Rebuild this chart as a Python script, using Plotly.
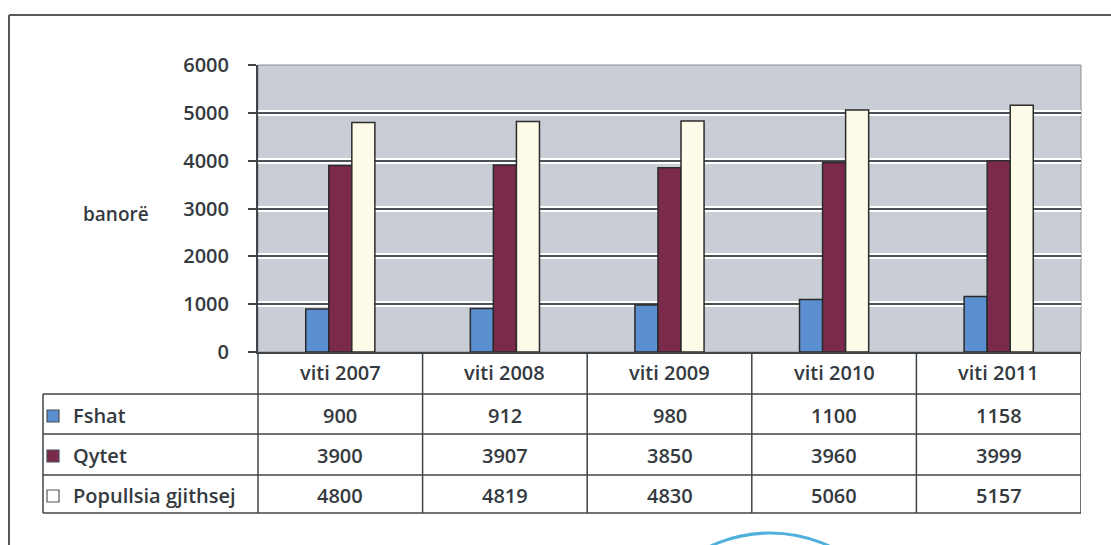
import plotly.graph_objects as go

# Population by year: rural, urban and total residents
years = ["viti 2007", "viti 2008", "viti 2009", "viti 2010", "viti 2011"]
series_names = ["Fshat", "Qytet", "Popullsia gjithsej"]
fshat = [900, 912, 980, 1100, 1158]
qytet = [3900, 3907, 3850, 3960, 3999]
popullsia = [4800, 4819, 4830, 5060, 5157]
y_ticks = [0, 1000, 2000, 3000, 4000, 5000, 6000]
y_label = "banorë"

values = [fshat, qytet, popullsia]
colors = ["#5b8fd0", "#7b2a4c", "#fffbe9"]

W, H = 1111, 545
L, R, T, B = 258, 1081, 65, 352  # plot area in page pixels

FONT = "Open Sans"
TXT = "#343a40"
LINE = "#3f4449"
FS = 20


def px(x):
    return (x - L) / (R - L)


def py(y):
    return (B - y) / (B - T)


fig = go.Figure()
for name, vals, col in zip(series_names, values, colors):
    fig.add_trace(go.Bar(
        x=list(range(len(years))), y=vals, name=name,
        marker=dict(color=col, line=dict(color="#2b2b2b", width=1.5)),
        showlegend=False,
    ))
# empty trace that anchors the overlay axis carrying the dark grid
fig.add_trace(go.Scatter(x=[], y=[], yaxis="y2", showlegend=False))

shapes = []
annotations = []


def hline(y, x0, x1, color=LINE, w=1.5):
    shapes.append(dict(type="line", xref="paper", yref="paper",
                       x0=px(x0), x1=px(x1), y0=py(y), y1=py(y),
                       line=dict(color=color, width=w)))


def vline(x, y0, y1, color=LINE, w=1.5, xref="paper"):
    xv = px(x) if xref == "paper" else x
    shapes.append(dict(type="line", xref=xref, yref="paper",
                       x0=xv, x1=xv, y0=py(y0), y1=py(y1),
                       line=dict(color=color, width=w)))


def label(x, y, text, xref="paper", xanchor="center", size=FS):
    annotations.append(dict(x=x, xref=xref, y=py(y), yref="paper", text=text,
                            showarrow=False, xanchor=xanchor, yanchor="middle",
                            font=dict(size=size, color=TXT, family=FONT, weight=600)))


# outer frame of the figure
hline(15, 9, W, color="#555a5e", w=2)
vline(9, 15, H, color="#555a5e", w=2)

# thin border round the plot area
shapes.append(dict(type="rect", xref="paper", yref="paper", x0=0, x1=1, y0=0, y1=1,
                   line=dict(color="#8a8f95", width=1), layer="below"))

# data table below the chart
row_edges = [394, 434, 475, 513]
for y in row_edges:
    hline(y, 43, R)
vline(43, 394, 513)
vline(L, 352, 513)
for i in range(len(years)):
    vline(i + 0.5, 352, 513, xref="x")

row_centers = [415, 455, 495]
for i, yr in enumerate(years):
    label(i, 372, yr, xref="x")
    for r, vals in enumerate(values):
        label(i, row_centers[r], str(vals[i]), xref="x")

# series keys in the table's first column
for r, (name, col) in enumerate(zip(series_names, colors)):
    yc = row_centers[r] + 1
    shapes.append(dict(type="rect", xref="paper", yref="paper",
                       x0=px(47), x1=px(59), y0=py(yc - 6), y1=py(yc + 6),
                       fillcolor=col if r < 2 else "#ffffff",
                       line=dict(color="#4a4f55" if r < 2 else "#555", width=1.2)))
    label(px(71), row_centers[r], name, xanchor="left")

# axis title
label(px(116), 214, y_label, size=19)

# stamp edge at the bottom of the page
shapes.append(dict(type="circle", xref="paper", yref="paper",
                   x0=px(770 - 141), x1=px(770 + 141), y0=py(533), y1=py(533 + 282),
                   line=dict(color="#4fb0dc", width=3)))

fig.update_layout(
    width=W, height=H,
    margin=dict(l=L, r=W - R, t=T, b=H - B),
    paper_bgcolor="#ffffff",
    plot_bgcolor="#c9cdd5",
    barmode="group", bargap=0.58, bargroupgap=0,
    xaxis=dict(range=[-0.5, len(years) - 0.5], showticklabels=False, showgrid=False,
               zeroline=False, showline=True, linecolor=LINE, linewidth=2, ticks=""),
    yaxis=dict(range=[0, 6000], tickvals=y_ticks, showgrid=True, gridcolor="#ffffff",
               gridwidth=6, zeroline=False, showline=True, linecolor=LINE, linewidth=2,
               ticks="outside", ticklen=8, tickcolor=LINE, tickwidth=2,
               ticklabelstandoff=15,
               tickfont=dict(size=FS, color=TXT, family=FONT, weight=600)),
    yaxis2=dict(range=[0, 6000], tickvals=y_ticks, overlaying="y", showgrid=True,
                gridcolor="#4d5157", gridwidth=2, showticklabels=False, zeroline=False,
                showline=False, ticks=""),
    shapes=shapes,
    annotations=annotations,
)

fig.write_html("out.html")
